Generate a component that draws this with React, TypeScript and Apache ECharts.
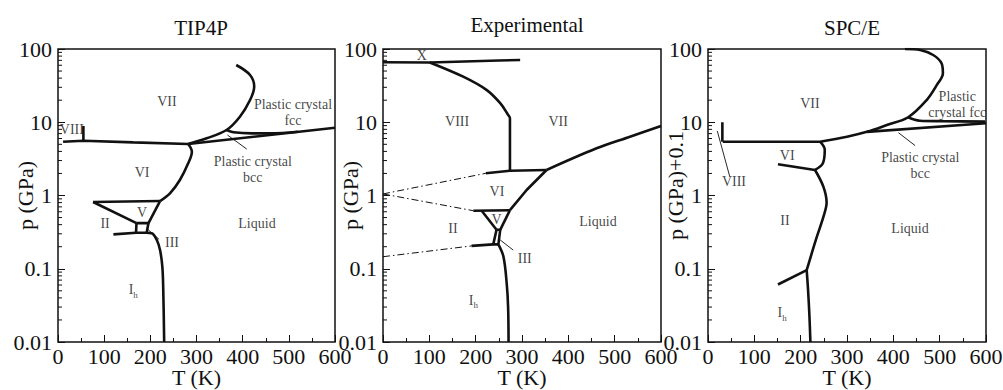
import React, { useEffect, useRef } from "react";
import * as echarts from "echarts";

const FONT = '"Liberation Serif", "Times New Roman", serif';

// ---------- axis / titles ----------
const panelTitles = ["TIP4P", "Experimental", "SPC/E"];
const yAxisNames = ["p (GPa)", "p (GPa)", "p (GPa)+0.1"];
const xAxisName = "T (K)";
const xMin = 0;
const xMax = 600;
const xInterval = 100;
const yMin = 0.01;
const yMax = 100;
const yMinorTicks = [
  0.02, 0.03, 0.04, 0.05, 0.06, 0.07, 0.08, 0.09,
  0.2, 0.3, 0.4, 0.5, 0.6, 0.7, 0.8, 0.9,
  2, 3, 4, 5, 6, 7, 8, 9,
  20, 30, 40, 50, 60, 70, 80, 90,
];

// ---------- TIP4P (T in K, p in GPa) ----------
const tip4pVIIIBoundary = [[11, 5.43], [55, 5.6], [163, 5.32], [282, 5.05]];
const tip4pVIIIWall = [[55, 5.6], [55, 8.9]];
const tip4pVIILiquid = [[282, 5.05], [322, 6.04], [365, 7.83], [394, 11.9], [416, 20.1], [425, 30.6], [416, 44.2], [386, 60.5]];
const tip4pBccLiquid = [[282, 5.05], [600, 8.4]];
const tip4pFccBcc = [[365, 7.83], [380, 7.3], [420, 7.05], [460, 7.05], [520, 7.4]];
const tip4pVILiquid = [[282, 5.05], [290, 3.96], [282, 2.75], [264, 1.63], [243, 1.08], [221, 0.84]];
const tip4pVIV = [[76, 0.815], [221, 0.84]];
const tip4pIIV = [[76, 0.815], [170, 0.42]];
const tip4pVLiquid = [[221, 0.84], [196, 0.42]];
const tip4pIIIBox = [[170, 0.42], [196, 0.42], [192, 0.31], [169, 0.31], [170, 0.42]];
const tip4pIIIh = [[120, 0.295], [169, 0.31]];
const tip4pIhLiquid = [[192, 0.31], [203, 0.305], [214, 0.247], [221, 0.18], [226, 0.107], [228, 0.051], [230, 0.01]];
const tip4pLeaders = [
  [[192, 0.356], [219, 0.252]],
  [[367, 6.7], [409, 4.3]],
];
const tip4pLabels = [
  { text: "VII", T: 236, p: 18.9 },
  { text: "VIII", T: 30, p: 8.0 },
  { text: "VI", T: 182, p: 2.03 },
  { text: "Plastic crystal\nfcc", T: 509, p: 13.6 },
  { text: "Plastic crystal\nbcc", T: 422, p: 2.26 },
  { text: "II", T: 102, p: 0.42 },
  { text: "V", T: 182, p: 0.577 },
  { text: "III", T: 247, p: 0.225 },
  { text: "Ih", T: 163, p: 0.052 },
  { text: "Liquid", T: 431, p: 0.42 },
];

// ---------- Experimental ----------
const expXVIII = [[0, 65.8], [101, 65.5], [250, 69.5], [296, 70.8]];
const expVIIIVII = [[101, 65.5], [173, 41.9], [224, 27.5], [253, 18.2], [270, 12.6], [274, 11.3], [274, 2.18]];
const expVIVII = [[222, 2.01], [274, 2.18], [353, 2.23]];
const expVIILiquid = [[353, 2.23], [461, 4.41], [533, 6.35], [600, 8.9]];
const expVILiquid = [[353, 2.23], [310, 1.19], [274, 0.63]];
const expVIVIIIDash = [[0, 1.05], [222, 2.01]];
const expVIIIDash = [[0, 1.05], [195, 0.62]];
const expIIIhDash = [[0, 0.146], [191, 0.205]];
const expVIV = [[195, 0.62], [274, 0.63]];
const expIIV = [[213, 0.62], [245, 0.34]];
const expVLiquid = [[274, 0.63], [253, 0.34]];
const expIIIBox = [[245, 0.34], [253, 0.34], [249, 0.215], [238, 0.215], [245, 0.34]];
const expIIIh = [[191, 0.205], [238, 0.215]];
const expIhLiquid = [[249, 0.215], [260, 0.146], [267, 0.063], [270, 0.03], [271, 0.01]];
const expLeaders = [[[253, 0.247], [281, 0.18]]];
const expLabels = [
  { text: "X", T: 84, p: 82.8 },
  { text: "VIII", T: 160, p: 10.1 },
  { text: "VII", T: 378, p: 10.1 },
  { text: "VI", T: 246, p: 1.12 },
  { text: "V", T: 245, p: 0.463 },
  { text: "II", T: 151, p: 0.36 },
  { text: "III", T: 306, p: 0.14 },
  { text: "Ih", T: 195, p: 0.037 },
  { text: "Liquid", T: 464, p: 0.435 },
];

// ---------- SPC/E (p + 0.1 GPa) ----------
const speVIIIBoundary = [[32, 5.43], [242, 5.43]];
const speVIIIWall = [[31, 5.43], [31, 10]];
const speVIILiquid = [[242, 5.43], [300, 6.35], [343, 7.4], [386, 9.16], [432, 11.7], [472, 20.1], [494, 32.3], [507, 46.6], [504, 63.8], [486, 82.8], [458, 96.8], [425, 100]];
const speFccBcc = [[432, 11.7], [457, 10.5], [508, 10.35], [598, 10.2]];
const speBccLiquid = [[343, 7.4], [600, 9.7]];
const speVILiquid = [[242, 5.43], [252, 4.2], [248, 2.75], [231, 2.23]];
const speVIII = [[151, 2.67], [231, 2.23]];
const speIILiquid = [[231, 2.23], [249, 1.32], [256, 0.8], [249, 0.51], [235, 0.274], [224, 0.163], [213, 0.096]];
const speIIIh = [[151, 0.061], [213, 0.096]];
const speIhLiquid = [[213, 0.096], [216, 0.051], [219, 0.022], [221, 0.01]];
const speLeaders = [
  [[20, 7.6], [47, 1.81]],
  [[411, 7.2], [447, 4.8]],
];
const speLabels = [
  { text: "VII", T: 220, p: 18.3 },
  { text: "VI", T: 171, p: 3.57 },
  { text: "VIII", T: 56, p: 1.53 },
  { text: "Plastic\ncrystal fcc", T: 538, p: 17.5 },
  { text: "Plastic crystal\nbcc", T: 458, p: 2.57 },
  { text: "II", T: 166, p: 0.46 },
  { text: "Liquid", T: 436, p: 0.36 },
  { text: "Ih", T: 160, p: 0.0249 },
];

// ---------- panel definitions ----------
const panels = [
  {
    solid: [tip4pVIIIBoundary, tip4pVIIIWall, tip4pBccLiquid, tip4pVIV, tip4pIIV, tip4pVLiquid, tip4pIIIBox, tip4pIIIh],
    curved: [tip4pVIILiquid, tip4pFccBcc, tip4pVILiquid, tip4pIhLiquid],
    dashed: [] as number[][][],
    leaders: tip4pLeaders,
    labels: tip4pLabels,
  },
  {
    solid: [expXVIII, expVIVII, expVILiquid, expVIV, expIIV, expVLiquid, expIIIBox, expIIIh],
    curved: [expVIIIVII, expVIILiquid, expIhLiquid],
    dashed: [expVIVIIIDash, expVIIIDash, expIIIhDash],
    leaders: expLeaders,
    labels: expLabels,
  },
  {
    solid: [speVIIIBoundary, speVIIIWall, speBccLiquid, speVIII, speIIIh],
    curved: [speVILiquid, speVIILiquid, speFccBcc, speIILiquid, speIhLiquid],
    dashed: [] as number[][][],
    leaders: speLeaders,
    labels: speLabels,
  },
];

const gridRects = [
  { left: 58, top: 49, width: 277, height: 293 },
  { left: 383, top: 49, width: 278, height: 293 },
  { left: 708, top: 49, width: 278, height: 293 },
];
const titleCenters = [
  { x: 196, top: 12 },
  { x: 522, top: 9 },
  { x: 847, top: 12 },
];
const yNamePadding = [
  [0, 0, 0, 0],
  [0, 0, 0, 0],
  [0, 0, 0, 20],
];

const INK = "#111111";

function buildOption() {
  const series: any[] = [];
  panels.forEach((pnl, i) => {
    const base = { xAxisIndex: i, yAxisIndex: i, showSymbol: false, silent: true, type: "line" };
    pnl.solid.forEach((d) =>
      series.push({ ...base, data: d, lineStyle: { color: INK, width: 2.6 } })
    );
    pnl.curved.forEach((d) =>
      series.push({ ...base, data: d, smooth: 0.35, lineStyle: { color: INK, width: 2.6 } })
    );
    pnl.dashed.forEach((d) =>
      series.push({ ...base, data: d, lineStyle: { color: INK, width: 1, type: [7, 3, 1.5, 3] } })
    );
    pnl.leaders.forEach((d) =>
      series.push({ ...base, data: d, lineStyle: { color: INK, width: 0.9 } })
    );
    series.push({
      type: "scatter",
      xAxisIndex: i,
      yAxisIndex: i,
      silent: true,
      symbolSize: 1,
      itemStyle: { color: "rgba(0,0,0,0)" },
      data: pnl.labels.map((l) => ({ value: [l.T, l.p], name: l.text })),
      label: {
        show: true,
        position: "inside",
        color: INK,
        textBorderWidth: 0,
        textBorderColor: "transparent",
        textShadowBlur: 0,
        fontSize: 14,
        fontFamily: FONT,
        lineHeight: 16,
        align: "center",
        formatter: (p: any) => (p.name === "Ih" ? "{b|I}{s|h}" : p.name),
        rich: {
          b: { fontSize: 14, fontFamily: FONT, color: INK, textBorderWidth: 0 },
          s: { fontSize: 9, fontFamily: FONT, color: INK, textBorderWidth: 0, padding: [10, 0, 0, 0] },
        },
      },
    });
    series.push({
      type: "custom",
      xAxisIndex: i,
      yAxisIndex: i,
      silent: true,
      clip: false,
      data: yMinorTicks.map((v) => [xMin, v]),
      renderItem: (_params: any, api: any) => {
        const pt = api.coord([api.value(0), api.value(1)]);
        return {
          type: "line",
          shape: { x1: pt[0], y1: pt[1], x2: pt[0] + 4, y2: pt[1] },
          style: { stroke: INK, lineWidth: 1 },
        };
      },
    });
  });

  return {
    animation: false,
    backgroundColor: "#ffffff",
    title: panelTitles.map((t, i) => ({
      text: t,
      left: titleCenters[i].x,
      top: titleCenters[i].top,
      textAlign: "center",
      textStyle: { fontFamily: FONT, fontSize: 21, fontWeight: "normal", color: INK },
    })),
    grid: gridRects.map((g) => ({
      ...g,
      show: true,
      borderColor: INK,
      borderWidth: 1.5,
      backgroundColor: "transparent",
      containLabel: false,
      outerBoundsMode: "none",
    })),
    xAxis: gridRects.map((_, i) => ({
      type: "value",
      gridIndex: i,
      min: xMin,
      max: xMax,
      interval: xInterval,
      axisLine: { show: false },
      axisTick: { show: true, inside: true, length: 7, lineStyle: { color: INK, width: 1 } },
      minorTick: { show: true, splitNumber: 2, length: 4, lineStyle: { color: INK, width: 1 } },
      splitLine: { show: false },
      axisLabel: { fontSize: 22, fontFamily: FONT, color: INK, margin: 3 },
      name: xAxisName,
      nameLocation: "middle",
      nameGap: 24,
      nameMoveOverlap: false,
      nameTextStyle: { fontSize: 22, fontFamily: FONT, color: INK },
    })),
    yAxis: gridRects.map((_, i) => ({
      type: "log",
      logBase: 10,
      gridIndex: i,
      min: yMin,
      max: yMax,
      axisLine: { show: false },
      axisTick: { show: true, inside: true, length: 7, lineStyle: { color: INK, width: 1 } },
      splitLine: { show: false },
      axisLabel: {
        fontSize: 22,
        fontFamily: FONT,
        color: INK,
        margin: 6,
        formatter: (v: number) => String(v),
      },
      name: yAxisNames[i],
      nameLocation: "middle",
      nameRotate: 90,
      nameGap: 22,
      nameMoveOverlap: false,
      nameTextStyle: { fontSize: 22, fontFamily: FONT, color: INK, padding: yNamePadding[i] },
    })),
    series,
  };
}

export default function App() {
  const ref = useRef<HTMLDivElement>(null);
  useEffect(() => {
    document.body.style.margin = "0";
    if (!ref.current) return;
    const chart = echarts.init(ref.current, undefined, { renderer: "svg" });
    chart.setOption(buildOption() as any);
    return () => chart.dispose();
  }, []);
  return <div ref={ref} style={{ width: 1003, height: 390 }} />;
}
